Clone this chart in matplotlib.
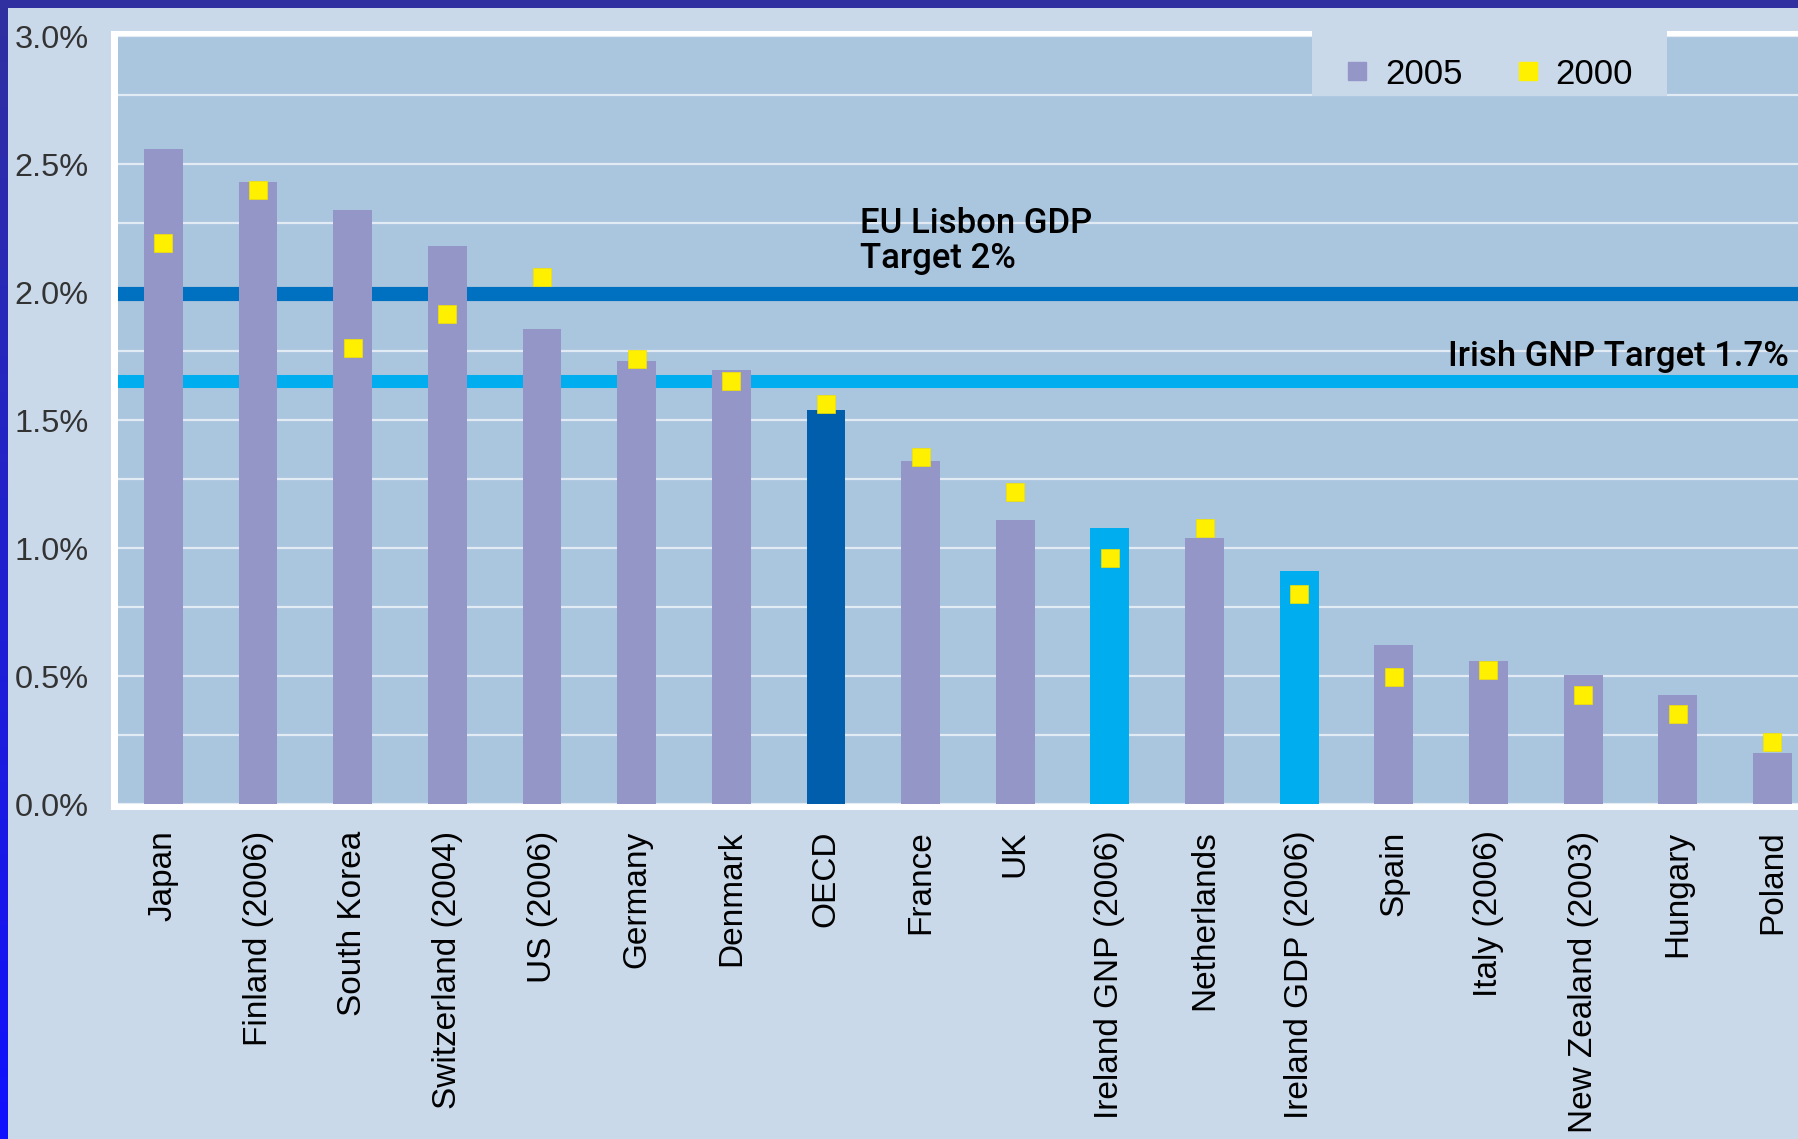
import numpy as np
import matplotlib
matplotlib.use("Agg")
import matplotlib.pyplot as plt
from matplotlib.patches import Rectangle
from matplotlib.lines import Line2D
from matplotlib.ticker import MultipleLocator, FuncFormatter

# ---------------- data ----------------
countries = ["Japan", "Finland (2006)", "South Korea", "Switzerland (2004)", "US (2006)",
             "Germany", "Denmark", "OECD", "France", "UK", "Ireland GNP (2006)",
             "Netherlands", "Ireland GDP (2006)", "Spain", "Italy (2006)",
             "New Zealand (2003)", "Hungary", "Poland"]
values_2005 = [2.56, 2.43, 2.32, 2.18, 1.855, 1.73, 1.695, 1.54, 1.338, 1.11, 1.08,
               1.04, 0.91, 0.62, 0.56, 0.505, 0.426, 0.198]
values_2000 = [2.19, 2.40, 1.78, 1.914, 2.057, 1.74, 1.651, 1.561, 1.357, 1.218, 0.96,
               1.08, 0.82, 0.495, 0.525, 0.426, 0.352, 0.243]
eu_target_level = 1.992
irish_target_level = 1.654
series_labels = ["2005", "2000"]

# ---------------- style ----------------
W, H = 1798, 1139
OUTER_BG = "#c9d9ea"
PLOT_BG = "#aac5de"
PURPLE = "#9596c8"
OECD_BLUE = "#005eac"
CYAN = "#00aeef"
DARK_LINE = "#0070c0"
YELLOW = "#fff000"

fig = plt.figure(figsize=(W / 100, H / 100), dpi=100)
fig.patch.set_facecolor(OUTER_BG)

# white frame behind plot area
fig.add_artist(Rectangle((111 / W, (H - 810) / H), 1.0, (810 - 31) / H,
                         transform=fig.transFigure, facecolor="white",
                         edgecolor="none", zorder=-1))
# top dark strip
fig.add_artist(Rectangle((0, 1 - 8 / H), 1.0, 8 / H, transform=fig.transFigure,
                         facecolor="#3030a0", edgecolor="none", zorder=10))
# left gradient strip
sax = fig.add_axes([0, 0, 8 / W, 1])
top_c = np.array([0x30, 0x30, 0xa0]) / 255
bot_c = np.array([0x10, 0x10, 0xff]) / 255
t = np.linspace(0, 1, 256)[:, None]
grad = (top_c[None, :] * (1 - t) + bot_c[None, :] * t)[:, None, :]
sax.imshow(grad, aspect="auto", extent=(0, 1, 0, 1))
sax.set_axis_off()

ax = fig.add_axes([118 / W, (H - 804) / H, 1 - 118 / W, (804 - 36) / H])
ax.set_facecolor(PLOT_BG)

x = np.arange(len(countries))
colors = [OECD_BLUE if c == "OECD" else (CYAN if c.startswith("Ireland") else PURPLE)
          for c in countries]

ax.axhline(eu_target_level, color=DARK_LINE, lw=10.2, zorder=2)
ax.axhline(irish_target_level, color=CYAN, lw=9.4, zorder=2)
ax.bar(x, values_2005, width=0.41, color=colors, zorder=3)
ax.plot(x, values_2000, ls="", marker="s", markersize=13, color=YELLOW,
        markeredgecolor="#f0e000", markeredgewidth=0.5, zorder=4)

ax.set_xlim(-0.48, (W - 162.5) / 94.7)
ax.set_ylim(0, 3.0)
ax.yaxis.set_major_locator(MultipleLocator(0.5))
ax.yaxis.set_minor_locator(MultipleLocator(0.5, offset=0.27))
ax.yaxis.set_major_formatter(FuncFormatter(lambda v, p: f"{v:.1f}%"))
ax.grid(axis="y", which="both", color="#e2eaf3", lw=1.6, zorder=1)
ax.set_axisbelow(True)
for s in ax.spines.values():
    s.set_visible(False)

ax.set_xticks(x)
ax.set_xticklabels(countries, rotation=90, fontsize=24, family="Liberation Sans",
                   color="black", va="top", ha="center")
ax.tick_params(axis="x", length=0, pad=19)
ax.tick_params(axis="y", which="both", length=0, pad=21, labelsize=23.4,
               labelcolor="#333333")
for lbl in ax.get_yticklabels():
    lbl.set_family("Liberation Sans")

ann_font = ["Roboto", "Liberation Sans"]
ax.text(7.36, 2.094, "EU Lisbon GDP\nTarget 2%", fontsize=25, family=ann_font,
        fontweight="medium", ha="left", va="baseline", color="black", zorder=5,
        linespacing=1.08)
ax.text(17.175, 1.711, "Irish GNP Target 1.7%", fontsize=25, family=ann_font,
        fontweight="medium", ha="right", va="baseline", color="black", zorder=5)

# legend box
ax.add_patch(Rectangle((1312 / W, (H - 96) / H), (1667 - 1312) / W, (96 - 31) / H,
                       transform=fig.transFigure, facecolor=OUTER_BG,
                       edgecolor="none", clip_on=False, zorder=6))
handles = [Line2D([], [], ls="", marker="s", markersize=13, color=PURPLE),
           Line2D([], [], ls="", marker="s", markersize=13, color=YELLOW)]
leg = ax.legend(handles, series_labels, ncol=2, loc="center left",
                bbox_to_anchor=(1326 / W, 1 - 74 / H), bbox_transform=fig.transFigure,
                frameon=False, borderaxespad=0, borderpad=0.4, handlelength=1.0,
                handletextpad=0.3, columnspacing=1.38,
                prop={"family": "Liberation Sans", "size": 25})
leg.set_zorder(7)

fig.savefig("out.png", dpi=100, facecolor=fig.get_facecolor())
